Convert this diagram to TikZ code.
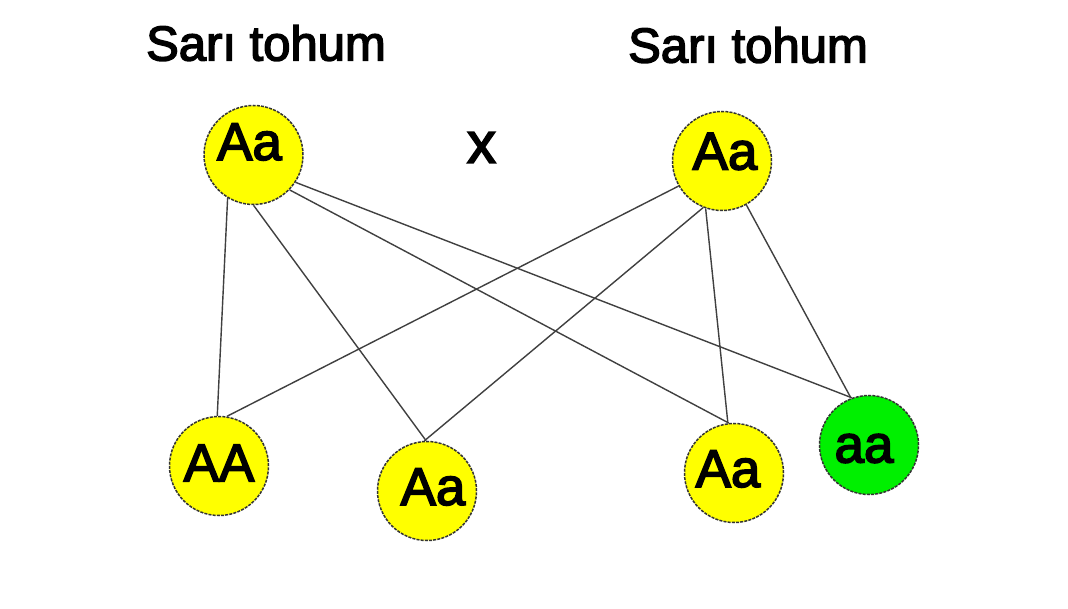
\documentclass[tikz,border=0pt]{standalone}
\usepackage{fontspec}
\setmainfont{Liberation Sans}
\newfontfamily\thickfont{Liberation Sans}[FakeBold=3]
\begin{document}
\begin{tikzpicture}[x=1pt,y=-1pt,
  gene/.style={circle,minimum size=99pt,inner sep=0pt,draw=black!80,
    line width=1.5pt,dash pattern=on 3pt off 1.2pt},
  yel/.style={gene,fill={rgb,255:red,255;green,255;blue,0}},
  grn/.style={gene,fill={rgb,255:red,0;green,240;blue,0}},
  lab/.style={font=\thickfont\fontsize{53}{60}\selectfont,inner sep=0pt},
  title/.style={font=\thickfont\fontsize{49}{56}\selectfont,inner sep=0pt},
  link/.style={draw=black!75,line width=1.4pt}]
\useasboundingbox (0,0) rectangle (1068,609);
\fill[white] (0,0) rectangle (1068,609);

\node[title] (t1) at (266,43) {Sarı tohum};
\node[title] (t2) at (748,45) {Sarı tohum};
\node[font=\thickfont\fontsize{58}{64}\selectfont,inner sep=0pt] (cross) at (481.5,147.5) {x};

\node[yel,label={[lab,name=l1,xshift=-4pt,yshift=13pt]center:Aa}] (p1) at (253.5,155) {};
\node[yel,label={[lab,name=l2,xshift=3pt,yshift=9.5pt]center:Aa}] (p2) at (722,161) {};
\node[yel,label={[lab,name=l3,yshift=3pt]center:AA}] (c1) at (219,466) {};
\node[yel,label={[lab,name=l4,xshift=6pt,yshift=4pt]center:Aa}] (c2) at (427,491) {};
\node[yel,label={[lab,name=l5,xshift=-6pt,yshift=4pt]center:Aa}] (c3) at (734,473) {};
\node[grn,label={[lab,name=l6,xshift=-5pt,yshift=-3.5pt]center:aa}] (c4) at (869,445) {};

\draw[link] (p1.239) -- (c1.92);
\draw[link] (p1.270) -- (c2.91);
\draw[link] (p1.316) -- (c3.96);
\draw[link] (p1.327) -- (c4.110);
\draw[link] (p2.210) -- (c1.81);
\draw[link] (p2.248) -- (c2.93);
\draw[link] (p2.251) -- (c3.97);
\draw[link] (p2.299) -- (c4.111);
\end{tikzpicture}
\end{document}
